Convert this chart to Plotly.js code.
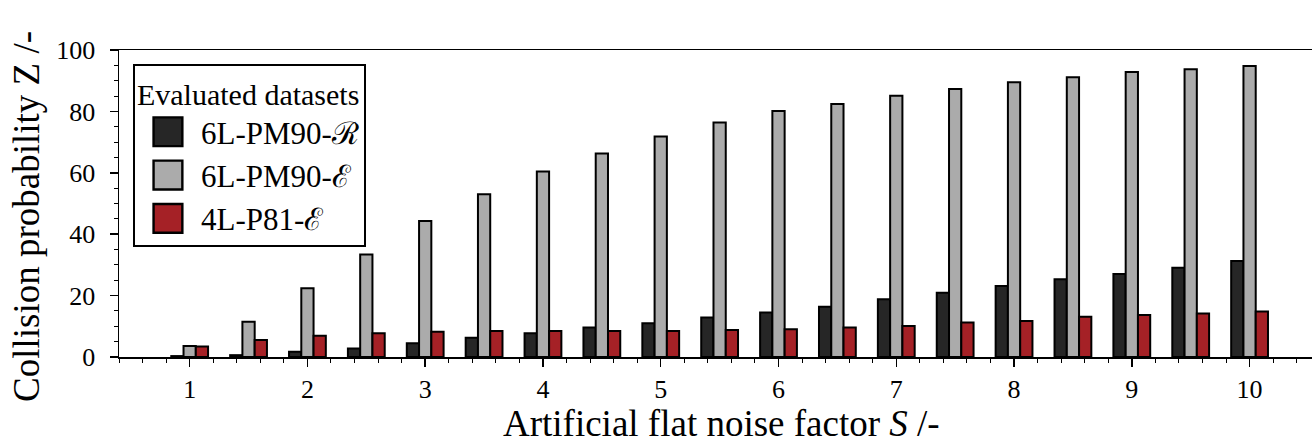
<!DOCTYPE html>
<html>
<head>
<meta charset="utf-8">
<script src="https://cdn.plot.ly/plotly-3.0.1.min.js"></script>
<style>
  html, body { margin: 0; padding: 0; background: #fff; }
  #chart { width: 1312px; height: 441px; }
</style>
</head>
<body>
<div id="chart"></div>
<script>
// Noise factor S (x categories)
const noiseFactor = [1, 1.5, 2, 2.5, 3, 3.5, 4, 4.5, 5, 5.5, 6, 6.5, 7, 7.5, 8, 8.5, 9, 9.5, 10];
// Collision probability Z per dataset
const pm90R = [0.3, 0.6, 1.7, 2.8, 4.5, 6.3, 7.7, 9.6, 11.0, 12.9, 14.5, 16.4, 18.8, 20.9, 23.1, 25.3, 27.0, 29.1, 31.3];
const pm90E = [3.6, 11.5, 22.4, 33.4, 44.3, 53.0, 60.4, 66.3, 71.8, 76.4, 80.1, 82.4, 85.1, 87.3, 89.5, 91.1, 92.8, 93.7, 94.8];
const p81E  = [3.4, 5.5, 6.9, 7.7, 8.2, 8.5, 8.5, 8.5, 8.5, 8.8, 9.0, 9.6, 10.1, 11.2, 11.7, 13.1, 13.7, 14.2, 14.8];
const seriesNames = ['6L-PM90-\u211B', '6L-PM90-\u2130', '4L-P81-\u2130'];
const xTickVals = [1, 2, 3, 4, 5, 6, 7, 8, 9, 10];
const yTickVals = [0, 20, 40, 60, 80, 100];
const xTitle = 'Artificial flat noise factor <i>S</i> /-';
const yTitle = 'Collision probability Z /-';

const FONT = "'Liberation Serif', serif";
const colors = ['#262626', '#ababab', '#a52126'];
const seriesData = [pm90R, pm90E, p81E];

const traces = seriesData.map((vals, i) => ({
  type: 'bar',
  x: noiseFactor,
  y: vals,
  name: seriesNames[i],
  legendgroup: 'g' + i,
  marker: { color: colors[i], line: { color: '#000', width: 2 } },
  hoverinfo: 'x+y+name'
}));

const layout = {
  width: 1312, height: 441,
  margin: { l: 119, r: 0, t: 50, b: 84 },
  paper_bgcolor: '#fff', plot_bgcolor: '#fff',
  font: { family: FONT, color: '#000' },
  barmode: 'group', bargap: 0.375, bargroupgap: 0,
  showlegend: true,
  legend: {
    x: 0.0117, y: 0.954, xanchor: 'left', yanchor: 'top',
    bordercolor: '#000', borderwidth: 2, bgcolor: '#fff',
    font: { family: FONT, size: 31, color: '#000' },
    title: { text: 'Evaluated datasets', font: { family: FONT, size: 30 }, side: 'top' },
    tracegroupgap: 6, itemwidth: 56, traceorder: 'normal'
  },
  xaxis: {
    range: [0.4, 10.53],
    tickvals: xTickVals, ticktext: xTickVals.map(String),
    ticks: 'outside', ticklen: 8, tickwidth: 1.5, tickcolor: '#000',
    minor: { dtick: 0.2, tick0: 0, ticks: 'outside', ticklen: 4, tickwidth: 1, tickcolor: '#000', showgrid: false },
    showline: true, linecolor: '#000', linewidth: 1.5, mirror: true,
    showgrid: false, zeroline: false,
    tickfont: { family: FONT, size: 26 },
    title: { text: '' }
  },
  yaxis: {
    range: [0, 100],
    tickvals: yTickVals, ticktext: yTickVals.map(String),
    ticks: 'outside', ticklen: 8, tickwidth: 1.5, tickcolor: '#000',
    ticklabelstandoff: 9,
    minor: { dtick: 5, tick0: 0, ticks: 'outside', ticklen: 4, tickwidth: 1, tickcolor: '#000', showgrid: false },
    showline: true, linecolor: '#000', linewidth: 1.5,
    showgrid: false, zeroline: false,
    tickfont: { family: FONT, size: 26 },
    title: { text: '' }
  },
  annotations: [
    { text: xTitle, xref: 'paper', yref: 'paper', x: 0.505, y: -0.29,
      xanchor: 'center', yanchor: 'bottom', showarrow: false,
      font: { family: FONT, size: 37, color: '#000' } },
    { text: yTitle, xref: 'paper', yref: 'paper', x: -0.078, y: 0.459,
      xanchor: 'center', yanchor: 'middle', showarrow: false, textangle: -90,
      font: { family: FONT, size: 37, color: '#000' } }
  ]
};

Plotly.newPlot('chart', traces, layout, { displayModeBar: false, staticPlot: true }).then(() => {
  document.querySelectorAll('.legend .traces .legendpoints path').forEach(p => {
    const cur = p.getAttribute('transform') || '';
    p.setAttribute('transform', cur + ' scale(2.4)');
    p.style.strokeWidth = '1px';
  });
});
</script>
</body>
</html>
